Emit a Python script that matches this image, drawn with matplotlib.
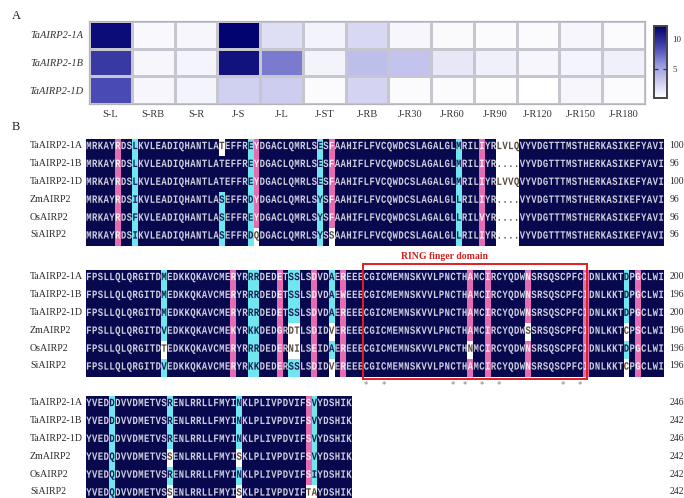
import numpy as np
import matplotlib
matplotlib.use('Agg')
import matplotlib.pyplot as plt
from matplotlib.colors import LinearSegmentedColormap, to_rgb
from matplotlib.textpath import TextPath
from matplotlib.patches import PathPatch, Rectangle
from matplotlib.path import Path
from matplotlib.font_manager import FontProperties
from matplotlib.transforms import Affine2D

# ---- panel A: expression heatmap ----
genes = ['TaAIRP2-1A', 'TaAIRP2-1B', 'TaAIRP2-1D']
tissues = ['S-L', 'S-RB', 'S-R', 'J-S', 'J-L', 'J-ST', 'J-RB', 'J-R30', 'J-R60',
           'J-R90', 'J-R120', 'J-R150', 'J-R180']
expr_1a = [11.6, 0.6, 0.7, 12.1, 2.0, 0.9, 2.3, 0.7, 0.5, 0.4, 0.4, 0.7, 0.4]
expr_1b = [9.4, 0.7, 0.8, 11.3, 6.8, 0.9, 3.7, 3.4, 1.5, 1.0, 0.7, 0.8, 1.0]
expr_1d = [8.6, 0.7, 0.8, 2.7, 2.9, 0.4, 2.5, 0.4, 0.4, 0.3, 0.2, 0.7, 0.4]

# ---- panel B: protein alignment ----
names = ['TaAIRP2-1A', 'TaAIRP2-1B', 'TaAIRP2-1D', 'ZmAIRP2', 'OsAIRP2', 'SiAIRP2']

block1 = [
    "MRKAY R DS L KVLEADIQHANTLA T EFFR E Y DGACLQMRLS E S F AAHIFLFVCQWDCSLAGALGL M RIL I YR LVLQ VYVDGTTTMSTHERKASIKEFYAVI",
    "MRKAY R DS L KVLEADIQHANTLA T EFFR E Y DGACLQMRLS E S F AAHIFLFVCQWDCSLAGALGL M RIL I YR .... VYVDGTTTMSTHERKASIKEFYAVI",
    "MRKAY R DS L KVLEADIQHANTLA T EFFR E Y DGACLQMRLS E S F AAHIFLFVCQWDCSLAGALGL M RIL I YR LVVQ VYVDGTTTMSTHERKASIKEFYAVI",
    "MRKAY R DS I KVLEADIQHANTLA S EFFR D Y DGACLQMRLS Y S F AAHIFLFVCQWDCSLAGALGL L RIL I YR .... VYVDGTTTMSTHERKASIKEFYAVI",
    "MRKAY R DS F KVLEADIQHANTLA S EFFR E Y DGACLQMRLS Y S F AAHIFLFVCQWDCSLAGALGL L RIL V YR .... VYVDGTTTMSTHERKASIKEFYAVI",
    "MRKAY R DS I KVLEADIQHANTLA S EFFR D Q DGACLQMRLS Y S S AAHIFLFVCQWDCSLAGALGL L RIL I YR .... VYVDGTTTMSTHERKASIKEFYAVI",
]
block2 = [
    "FPSLLQLQRGITD M EDKKQKAVCME R YR RR DED E T SS LS D V D A E R EEE CGICMEMNSKVVLPNCTH A MC I RCYQDW N SRSQSCPFC I DNLKKT D P G CLWI",
    "FPSLLQLQRGITD M EDKKQKAVCME R YR RR DED E T SS LS D V D A E W EEE CGICMEMNSKVVLPNCTH A MC I RCYQDW N SRSQSCPFC I DNLKKT D P G CLWI",
    "FPSLLQLQRGITD M EDKKQKAVCME R YR RR DED E T SS LS D V D A E R EEE CGICMEMNSKVVLPNCTH A MC I RCYQDW N SRSQSCPFC I DNLKKT D P G CLWI",
    "FPSLLQLQRGITD V EDKKQKAVCME K YR KK DED G R DT LS D I D V E R EEE CGICMEMNSKVVLPNCTH A MC I RCYQDW S SRSQSCPFC I DNLKKT C P S CLWI",
    "FPSLLQLQRGITD T EDKKQKAVCME R YR RR DED E R NI LS E I D A E R EEE CGICMEMNSKVVLPNCTH N MC I RCYQDW N SRSQSCPFC I DNLKKT D P G CLWI",
    "FPSLLQLQRGITD V EDKKQKAVCME R YR KK DED E R SS LS D I D V E R EEE CGICMEMNSKVVLPNCTH A MC I RCYQDW N SRSQSCPFC I DNLKKT C P G CLWI",
]
block3 = [
    "YVED D DVVDMETVS R ENLRRLLFMYI N KLPLIVPDVIF S V YDSHIK",
    "YVED D DVVDMETVS R ENLRRLLFMYI N KLPLIVPDVIF S V YDSHIK",
    "YVED D DVVDMETVS R ENLRRLLFMYI N KLPLIVPDVIF S V YDSHIK",
    "YVED Q DVVDMETVS S ENLRRLLFMYI S KLPLIVPDVIF S V YDSHIK",
    "YVED Q DVVDMETVS R ENLRRLLFMYI N KLPLIVPDVIF S I YDSHIK",
    "YVED Q DVVDMETVS S ENLRRLLFMYI S KLPLIVPDVIF T A YDSHIK",
]
ends1 = [100, 96, 100, 96, 96, 96]
ends2 = [200, 196, 200, 196, 196, 196]
ends3 = [246, 242, 246, 242, 242, 242]

# shading: n = identical, p = high homology, c = partial, w = none
shade1_cols = {5: 'p', 8: 'c', 28: 'c', 29: 'p', 40: 'c', 42: 'p', 64: 'c', 68: 'p',
               71: 'w', 72: 'w', 73: 'w', 74: 'w'}
shade1_cells = {(0, 23): 'w', (3, 23): 'c', (4, 23): 'c', (5, 23): 'c', (5, 29): 'w', (5, 42): 'w'}
shade2_cols = {13: 'c', 25: 'p', 28: 'c', 29: 'c', 33: 'p', 35: 'c', 36: 'c', 39: 'p', 42: 'c',
               44: 'p', 66: 'p', 69: 'p', 76: 'p', 86: 'p', 93: 'c', 95: 'p'}
shade2_cells = {(4, 13): 'w', (3, 35): 'w', (3, 36): 'w', (4, 35): 'w', (4, 36): 'w',
                (3, 42): 'w', (5, 42): 'w', (4, 66): 'w', (3, 76): 'w', (3, 93): 'w', (5, 93): 'w'}
shade3_cols = {4: 'c', 14: 'c', 26: 'c', 38: 'p', 39: 'c'}
shade3_cells = {(3, 14): 'w', (5, 14): 'w', (3, 26): 'w', (5, 26): 'w', (5, 38): 'w', (5, 39): 'w'}

ring_start, ring_end = 48, 87
ring_stars = [48, 51, 63, 65, 68, 71, 82, 85]

bg_colors = {'n': '#08084f', 'p': '#e36cb2', 'c': '#70e6ee', 'w': '#ffffff'}
fg_colors = {'n': '#cdcddc', 'p': '#f4eef4', 'c': '#1c1c55', 'w': '#5a4a3c'}

W, H = 684, 498
fig = plt.figure(figsize=(W / 100, H / 100), dpi=100)
serif = 'Liberation Serif'


def px_axes(x0, y0, x1, y1):
    return fig.add_axes([x0 / W, 1 - y1 / H, (x1 - x0) / W, (y1 - y0) / H])


# heatmap
cmap = LinearSegmentedColormap.from_list(
    'wb', [(0, '#ffffff'), (0.45, '#9a9ae0'), (0.7, '#4a4ab4'), (1, '#00006e')])
expr = np.array([expr_1a, expr_1b, expr_1d])
ax = px_axes(89, 21, 645, 104)
mesh = ax.pcolormesh(expr, cmap=cmap, vmin=0.2, vmax=12.2, edgecolors='#c6c6d0', linewidth=0.8)
ax.set_xlim(0, len(tissues))
ax.set_ylim(len(genes), 0)
ax.set_xticks(np.arange(len(tissues)) + 0.5, labels=tissues, fontsize=7.5, family=serif, color='#333333')
ax.set_yticks(np.arange(len(genes)) + 0.5, labels=genes, fontsize=7.5, family=serif,
              style='italic', color='#333333')
ax.tick_params(length=0, pad=4)
for s in ax.spines.values():
    s.set_color('#b4b4bc')
    s.set_linewidth(0.9)

cax = px_axes(654, 26, 667, 98)
cb = fig.colorbar(mesh, cax=cax, ticks=[5, 10])
cb.outline.set_edgecolor('#44444c')
cb.outline.set_linewidth(1.4)
cax.tick_params(direction='in', length=3, width=0.9, color='#30305a', left=True, right=True,
                labelsize=6.5, pad=4, labelcolor='#333333')
for t in cax.get_yticklabels():
    t.set_family(serif)

fig.text(12 / W, 1 - 16 / H, 'A', fontsize=9, family=serif, va='center', color='#222222')
fig.text(12 / W, 1 - 127 / H, 'B', fontsize=9, family=serif, va='center', color='#222222')

# alignment letters drawn as stretched glyph outlines
mono = FontProperties(family='Liberation Mono', weight='bold')
glyphs = {}


def glyph(ch):
    if ch not in glyphs:
        glyphs[ch] = TextPath((0, 0), ch, size=1, prop=mono)
    return glyphs[ch]


cap = glyph('H').get_extents().y1
sx, sy = 1.55, 0.41 / cap
row_mid = 0.36
ncols_full = 100


def draw_block(top, rows, col_marks, cell_marks, ends):
    seqs = [r.replace(' ', '') for r in rows]
    ncol = len(seqs[0])
    assert all(len(s) == ncol for s in seqs)
    nrow = len(seqs)
    bax = px_axes(86, top, 664, top + 17.9 * nrow)
    shade = [[col_marks.get(c, 'n') for c in range(ncol)] for _ in range(nrow)]
    for (r, c), k in cell_marks.items():
        shade[r][c] = k
    rgb = np.array([[to_rgb(bg_colors[k]) for k in row] for row in shade])
    bax.imshow(rgb, extent=(0, ncol, -nrow, 0), aspect='auto', interpolation='nearest')
    groups = {k: [] for k in bg_colors}
    for r, s in enumerate(seqs):
        ymid = -(r + row_mid)
        for c, ch in enumerate(s):
            tr = Affine2D().scale(sx, sy).translate(c + 0.5 - 0.3 * sx, ymid - cap * sy / 2)
            groups[shade[r][c]].append(glyph(ch).transformed(tr))
        bax.text(-9.7, ymid, names[r], fontsize=7.2, family=serif, va='center', ha='left', color='#2a2a2a')
        bax.text(100.9, ymid, str(ends[r]), fontsize=7, family=serif, va='center', ha='left', color='#2a2a2a')
    for k, plist in groups.items():
        if plist:
            bax.add_patch(PathPatch(Path.make_compound_path(*plist), facecolor=fg_colors[k],
                                    edgecolor='none', lw=0))
    bax.set_xlim(0, ncols_full)
    bax.set_ylim(-nrow, 0)
    bax.axis('off')
    return bax


draw_block(139, block1, shade1_cols, shade1_cells, ends1)
ax2 = draw_block(270, block2, shade2_cols, shade2_cells, ends2)
draw_block(396, block3, shade3_cols, shade3_cells, ends3)

# RING finger domain box and conserved C/H markers
ax2.add_patch(Rectangle((ring_start - 0.1, -6.09), ring_end - ring_start - 0.2, 6.43,
                        fill=False, edgecolor='#e0201c', lw=1.4, clip_on=False))
ax2.text(62, 0.73, 'RING finger domain', fontsize=7, family=serif, weight='bold',
         color='#d42020', ha='center', va='center')
for c in ring_stars:
    ax2.text(c + 0.5, -6.45, '*', fontsize=6, color='#7a7a7a', ha='center', va='center')

fig.savefig('out.png', dpi=100)
